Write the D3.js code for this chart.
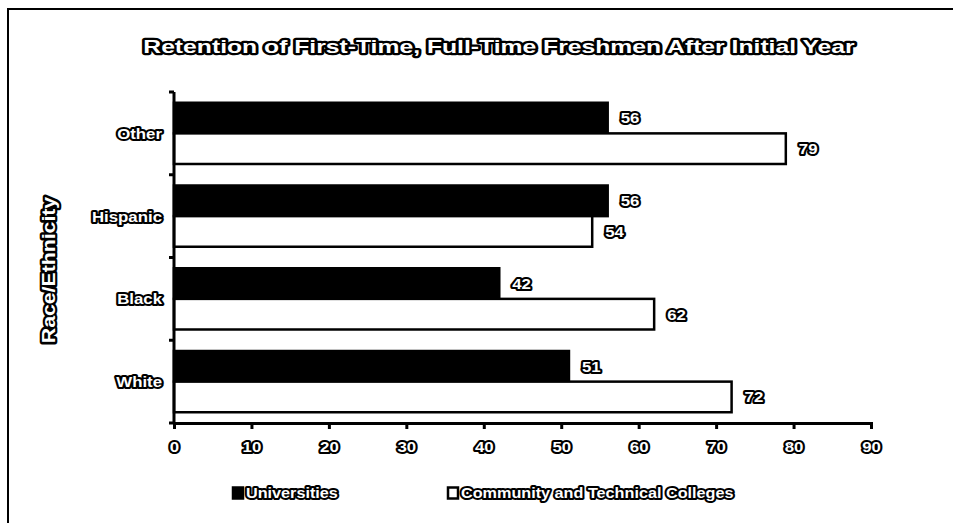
<!DOCTYPE html>
<html>
<head>
<meta charset="utf-8">
<script src="https://cdn.jsdelivr.net/npm/d3@7/dist/d3.min.js"></script>
<style>
  html, body { margin: 0; padding: 0; background: #fff; }
  svg { display: block; }
  .ol { font-family: "Liberation Sans", Arial, sans-serif; font-weight: bold;
        fill: #fff; stroke: #000; stroke-linejoin: round; paint-order: stroke; }
</style>
</head>
<body>
<svg id="chart" width="953" height="523"></svg>
<script>
// Retention rates (%) by race/ethnicity, top-to-bottom order
const categories = ["Other", "Hispanic", "Black", "White"];
const universities = [56, 56, 42, 51];
const communityColleges = [79, 54, 62, 72];
const seriesNames = ["Universities", "Community and Technical Colleges"];
const xTicks = [0, 10, 20, 30, 40, 50, 60, 70, 80, 90];
const titleText = "Retention of First-Time, Full-Time Freshmen After Initial Year";
const yTitle = "Race/Ethnicity";

const svg = d3.select("#chart");
const W = 953, H = 523;
const m = { left: 174, right: 82, top: 92, bottom: 100 };
const innerW = W - m.left - m.right;   // 697
const innerH = H - m.top - m.bottom;   // 331

// widen the outlined lettering horizontally
function widen(sel, k) {
  sel.each(function () {
    const w = this.getComputedTextLength();
    d3.select(this).attr("textLength", w * k).attr("lengthAdjust", "spacingAndGlyphs");
  });
  return sel;
}

// outer frame
svg.append("rect")
  .attr("x", 8).attr("y", 9).attr("width", 960).attr("height", 530)
  .attr("fill", "none").attr("stroke", "#000").attr("stroke-width", 2);

const x = d3.scaleLinear().domain([0, 90]).range([0, innerW]);
const y = d3.scaleBand().domain(categories).range([0, innerH]).paddingInner(0.26).paddingOuter(0.13);
const sub = d3.scaleBand().domain([0, 1]).range([0, y.bandwidth()]);

const g = svg.append("g").attr("transform", `translate(${m.left},${m.top})`);

const rows = categories.map((c, i) => ({ cat: c, vals: [universities[i], communityColleges[i]] }));

const rowG = g.selectAll(".row").data(rows).join("g")
  .attr("transform", d => `translate(0,${y(d.cat)})`);

rowG.selectAll("rect").data(d => d.vals.map((v, k) => ({ v, k }))).join("rect")
  .attr("x", 0)
  .attr("y", d => sub(d.k))
  .attr("width", d => x(d.v))
  .attr("height", sub.bandwidth())
  .attr("fill", d => d.k === 0 ? "#000" : "#fff")
  .attr("stroke", "#000").attr("stroke-width", 2.5);

widen(rowG.selectAll("text").data(d => d.vals.map((v, k) => ({ v, k }))).join("text")
  .attr("class", "ol")
  .attr("x", d => x(d.v) + 13)
  .attr("y", d => sub(d.k) + sub.bandwidth() / 2)
  .attr("dy", "0.36em")
  .attr("font-size", 15).attr("stroke-width", 4)
  .text(d => d.v), 1.12);

// y axis: ticks on the band boundaries
const yAxisG = g.append("g");
yAxisG.append("line").attr("x1", 0).attr("x2", 0).attr("y1", 0).attr("y2", innerH)
  .attr("stroke", "#000").attr("stroke-width", 3);
const step = innerH / categories.length;
yAxisG.selectAll(".yt").data(d3.range(categories.length + 1)).join("line")
  .attr("x1", -5).attr("x2", 0)
  .attr("y1", i => i * step).attr("y2", i => i * step)
  .attr("stroke", "#000").attr("stroke-width", 3);
widen(yAxisG.selectAll(".yl").data(categories).join("text")
  .attr("class", "ol")
  .attr("x", -12).attr("y", d => y(d) + y.bandwidth() / 2)
  .attr("dy", "0.36em").attr("text-anchor", "end")
  .attr("font-size", 15).attr("stroke-width", 4)
  .text(d => d), 1.12);

// x axis
const xAxis = d3.axisBottom(x).tickValues(xTicks).tickSize(6).tickPadding(12);
const xg = g.append("g").attr("transform", `translate(0,${innerH})`).call(xAxis);
xg.select(".domain").attr("stroke", "#000").attr("stroke-width", 3);
xg.selectAll(".tick line").attr("stroke", "#000").attr("stroke-width", 3);
widen(xg.selectAll(".tick text")
  .attr("class", "ol").attr("font-size", 15).attr("stroke-width", 4)
  .attr("fill", null), 1.12);

// title
widen(svg.append("text").attr("class", "ol")
  .attr("x", 499).attr("y", 53).attr("text-anchor", "middle")
  .attr("font-size", 19).attr("stroke-width", 4.5)
  .text(titleText), 1.3);

// y axis title
widen(svg.append("text").attr("class", "ol")
  .attr("transform", "translate(55,270) rotate(-90)")
  .attr("text-anchor", "middle")
  .attr("font-size", 18).attr("stroke-width", 4.5)
  .text(yTitle), 1.18);

// legend
const legend = [
  { name: seriesNames[0], fill: "#000", x: 233 },
  { name: seriesNames[1], fill: "#fff", x: 448 }
];
const lg = svg.selectAll(".lg").data(legend).join("g")
  .attr("transform", d => `translate(${d.x},493)`);
lg.append("rect").attr("x", 0).attr("y", -5.5).attr("width", 10).attr("height", 11)
  .attr("fill", d => d.fill).attr("stroke", "#000").attr("stroke-width", 2.5);
widen(lg.append("text").attr("class", "ol")
  .attr("x", 13).attr("y", 0).attr("dy", "0.36em")
  .attr("font-size", 15).attr("stroke-width", 4)
  .text(d => d.name), 1.08);
</script>
</body>
</html>
